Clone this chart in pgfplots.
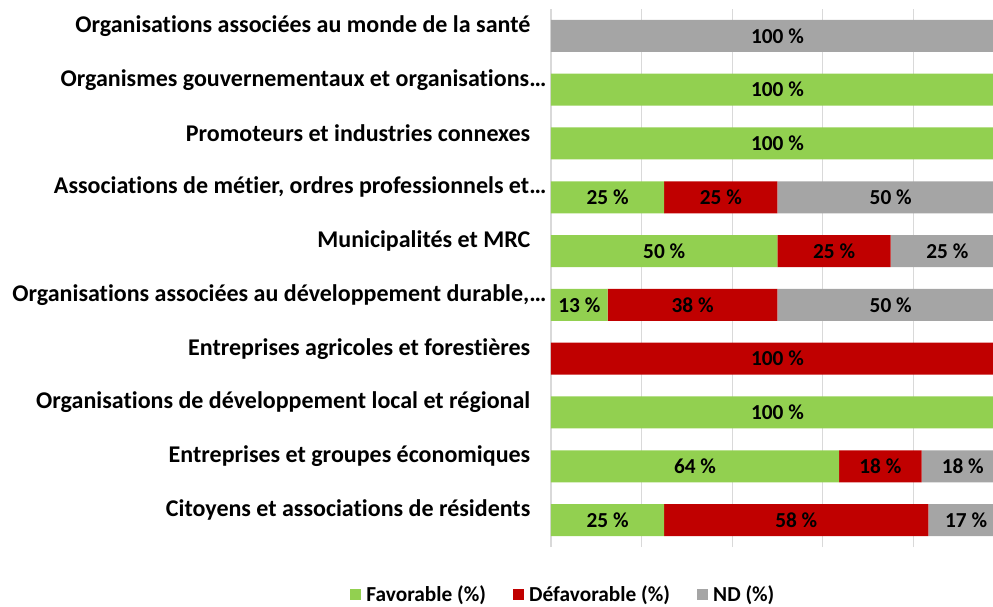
\documentclass[border=0pt]{standalone}
\usepackage{fontspec}
\setmainfont{Carlito}[Ligatures=NoCommon]
\usepackage{pgfplots}
\usepackage{pgfplotstable}
\pgfplotsset{compat=1.18}

\definecolor{fav}{HTML}{92D050}
\definecolor{defav}{HTML}{C00000}
\definecolor{nd}{HTML}{A5A5A5}
\definecolor{grille}{HTML}{D9D9D9}

% y: 0 = bottom category; x = share, m = label shown
\pgfplotstableread{
y x m
0 25 25
1 63.6 64
2 100 100
3 0 0
4 12.5 13
5 50 50
6 25 25
7 100 100
8 100 100
9 0 0
}\fav

\pgfplotstableread{
y x m
0 58.3 58
1 18.2 18
2 0 0
3 100 100
4 37.5 38
5 25 25
6 25 25
7 0 0
8 0 0
9 0 0
}\defav

\pgfplotstableread{
y x m
0 16.7 17
1 18.2 18
2 0 0
3 0 0
4 50 50
5 25 25
6 50 50
7 0 0
8 0 0
9 100 100
}\nd

\begin{document}
\begin{tikzpicture}
\useasboundingbox (-413.25pt,-45pt) rectangle (331.5pt,410.25pt);
\clip (-450pt,-80pt) rectangle (331.5pt,450pt);
\begin{axis}[
    at={(0,0)}, anchor=south west,
    scale only axis,
    width=339.75pt, height=403.5pt,
    xbar stacked,
    bar width=24pt,
    xmin=0, xmax=100,
    ymin=-0.5, ymax=9.5,
    xtick={0,20,40,60,80},
    xticklabels={},
    xmajorgrids,
    grid style={grille, line width=0.8pt},
    axis line style={draw=none},
    major tick length=0pt,
    ytick={0,...,9},
    yticklabels={
        Citoyens et associations de résidents\hspace*{12pt},
        Entreprises et groupes économiques\hspace*{12pt},
        Organisations de développement local et régional\hspace*{12pt},
        Entreprises agricoles et forestières\hspace*{12pt},
        {Organisations associées au développement durable,…},
        Municipalités et MRC\hspace*{12pt},
        {Associations de métier, ordres professionnels et…},
        Promoteurs et industries connexes\hspace*{12pt},
        Organismes gouvernementaux et organisations…,
        Organisations associées au monde de la santé\hspace*{12pt}
    },
    yticklabel style={font=\bfseries\fontsize{18}{21}\selectfont, yshift=7.5pt},
    /pgf/number format/assume math mode=true,
    point meta=explicit,
    nodes near coords={\pgfmathfloatifflags{\pgfplotspointmeta}{0}{}{\pgfmathprintnumber{\pgfplotspointmeta} \%}},
    nodes near coords align={center},
    every node near coord/.append style={
        font=\bfseries\fontsize{16}{19}\selectfont, black},
    sq/.style={legend image code/.code={\fill[##1] (0pt,-4.2pt) rectangle (8.4pt,4.2pt);}},
    legend columns=-1,
    legend style={at={(0.0276,-0.089)}, anchor=center, draw=none,
        font=\bfseries\fontsize{16}{19}\selectfont,
        /tikz/every odd column/.append style={column sep=2pt},
        /tikz/every even column/.append style={column sep=18pt}},
]
\addplot[fill=fav, draw=none, sq] table[x=x, y=y, meta=m] {\fav};
\addlegendentry{Favorable (\%)}
\addplot[fill=defav, draw=none, sq] table[x=x, y=y, meta=m] {\defav};
\addlegendentry{Défavorable (\%)}
\addplot[fill=nd, draw=none, sq] table[x=x, y=y, meta=m] {\nd};
\addlegendentry{ND (\%)}
\end{axis}
\end{tikzpicture}
\end{document}
